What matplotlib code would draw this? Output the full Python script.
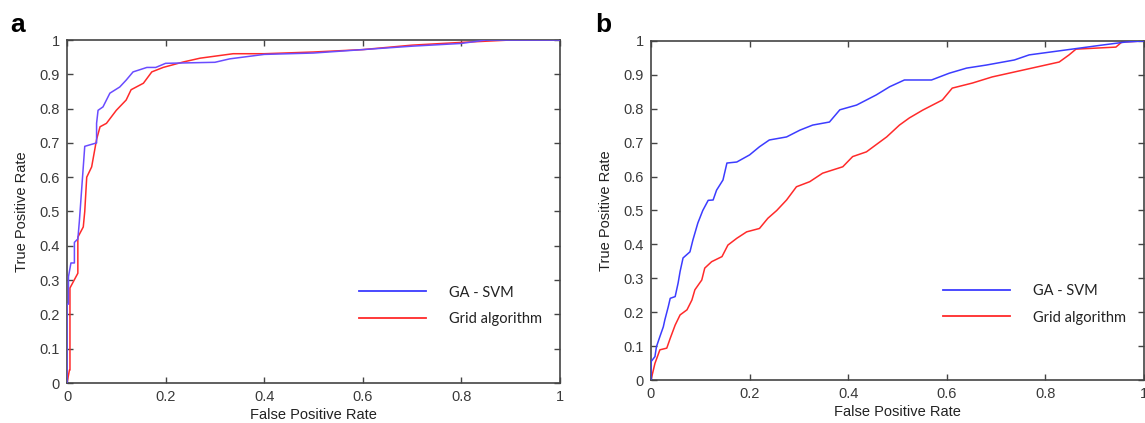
import matplotlib
matplotlib.use("Agg")
import matplotlib.pyplot as plt

plt.rcParams['font.family'] = ['Liberation Sans', 'DejaVu Sans']

# Panel a data
a_ga_fpr = [0, 0, 0.003, 0.003, 0.008, 0.015, 0.015, 0.022, 0.025, 0.028, 0.032, 0.036, 0.06, 0.06,
            0.063, 0.073, 0.087, 0.107, 0.12, 0.134, 0.162, 0.18, 0.2, 0.3, 0.33, 0.4, 0.5, 0.6, 0.7, 0.8, 0.85, 1.0]
a_ga_tpr = [0, 0.23, 0.23, 0.31, 0.35, 0.35, 0.41, 0.42, 0.47, 0.53, 0.61, 0.69, 0.70, 0.757,
            0.795, 0.805, 0.845, 0.863, 0.883, 0.907, 0.92, 0.92, 0.932, 0.935, 0.945, 0.958, 0.962, 0.972, 0.982, 0.99, 1.0, 1.0]
a_grid_fpr = [0, 0.005, 0.006, 0.006, 0.022, 0.022, 0.033, 0.036, 0.04, 0.05, 0.06, 0.067, 0.08, 0.1,
              0.12, 0.13, 0.155, 0.172, 0.195, 0.236, 0.27, 0.337, 0.4, 0.5, 0.6, 0.7, 0.8, 0.9, 1.0]
a_grid_tpr = [0, 0.038, 0.038, 0.277, 0.32, 0.425, 0.455, 0.50, 0.60, 0.63, 0.71, 0.747, 0.757, 0.795,
              0.825, 0.855, 0.874, 0.907, 0.92, 0.936, 0.947, 0.96, 0.96, 0.965, 0.972, 0.985, 0.993, 1.0, 1.0]

# Panel b data
b_ga_fpr = [0, 0, 0.008, 0.011, 0.018, 0.025, 0.028, 0.035, 0.039, 0.049, 0.055, 0.059, 0.065, 0.079,
            0.085, 0.095, 0.105, 0.116, 0.126, 0.133, 0.146, 0.154, 0.174, 0.2, 0.22, 0.24, 0.275, 0.302,
            0.328, 0.362, 0.383, 0.417, 0.457, 0.484, 0.514, 0.569, 0.605, 0.64, 0.68, 0.737, 0.767,
            0.854, 0.915, 0.963, 1.0]
b_ga_tpr = [0, 0.054, 0.069, 0.098, 0.128, 0.157, 0.177, 0.216, 0.241, 0.246, 0.286, 0.32, 0.36, 0.378,
            0.413, 0.463, 0.50, 0.53, 0.531, 0.56, 0.59, 0.64, 0.643, 0.664, 0.688, 0.708, 0.717, 0.737,
            0.752, 0.761, 0.797, 0.811, 0.841, 0.865, 0.885, 0.885, 0.905, 0.92, 0.929, 0.944, 0.959,
            0.976, 0.988, 0.997, 1.0]
b_grid_fpr = [0, 0.008, 0.018, 0.032, 0.039, 0.049, 0.059, 0.073, 0.083, 0.089, 0.103, 0.109, 0.123,
              0.144, 0.156, 0.174, 0.194, 0.22, 0.237, 0.255, 0.275, 0.295, 0.322, 0.348, 0.389, 0.409,
              0.437, 0.45, 0.478, 0.504, 0.524, 0.551, 0.591, 0.611, 0.652, 0.692, 0.828, 0.848, 0.862,
              0.943, 0.955, 1.0]
b_grid_tpr = [0, 0.049, 0.089, 0.094, 0.123, 0.162, 0.192, 0.207, 0.236, 0.266, 0.295, 0.33, 0.349,
              0.364, 0.398, 0.418, 0.437, 0.447, 0.477, 0.50, 0.531, 0.57, 0.585, 0.61, 0.629, 0.659,
              0.673, 0.687, 0.717, 0.752, 0.773, 0.796, 0.826, 0.861, 0.876, 0.894, 0.938, 0.959, 0.976,
              0.982, 0.997, 1.0]

labels = ['GA - SVM', 'Grid algorithm']
xticks = [0, 0.2, 0.4, 0.6, 0.8, 1]
xticklabels = ['0', '0.2', '0.4', '0.6', '0.8', '1']
yticks = [0, 0.1, 0.2, 0.3, 0.4, 0.5, 0.6, 0.7, 0.8, 0.9, 1]
yticklabels = ['0', '0.1', '0.2', '0.3', '0.4', '0.5', '0.6', '0.7', '0.8', '0.9', '1']

W, H = 1145, 423
fig = plt.figure(figsize=(W / 100, H / 100), dpi=100)

ax_a = fig.add_axes([67 / W, (H - 383) / H, 493 / W, 343 / H])
ax_b = fig.add_axes([651 / W, (H - 380) / H, 493 / W, 339 / H])

blue_a = '#6a4cff'
blue_b = '#3c3cff'
red = '#ff2a2a'

ax_a.plot(a_ga_fpr, a_ga_tpr, color=blue_a, lw=1.1, zorder=3)
ax_a.plot(a_grid_fpr, a_grid_tpr, color=red, lw=1.1, zorder=2)
ax_b.plot(b_ga_fpr, b_ga_tpr, color=blue_b, lw=1.1, zorder=3)
ax_b.plot(b_grid_fpr, b_grid_tpr, color=red, lw=1.1, zorder=2)

for ax in (ax_a, ax_b):
    ax.set_xlim(0, 1)
    ax.set_ylim(0, 1)
    ax.set_xticks(xticks)
    ax.set_xticklabels(xticklabels)
    ax.set_yticks(yticks)
    ax.set_yticklabels(yticklabels)
    ax.tick_params(direction='in', length=4, width=1, top=True, right=True,
                   labelsize=10.5, labelcolor='#3a3a3a', color='#444444', pad=5)
    for s in ax.spines.values():
        s.set_color('#444444')
        s.set_linewidth(1.2)
    ax.set_xlabel('False Positive Rate', fontsize=10.5, color='#222222', labelpad=3)
    ax.set_ylabel('True Positive Rate', fontsize=10.5, color='#222222', labelpad=8)

# Legends (no frame)
def add_legend(ax, cols, y):
    hs = [plt.Line2D([], [], color=c, lw=1.3) for c in cols]
    leg = ax.legend(hs, labels, loc='lower right', bbox_to_anchor=(0.99, y),
                    frameon=False, handlelength=4.6, handletextpad=1.6,
                    labelspacing=0.85, prop={'family': 'Lato', 'size': 10.5})
    for t in leg.get_texts():
        t.set_color('#222222')

add_legend(ax_a, [blue_b, red], 0.128)
add_legend(ax_b, [blue_b, red], 0.125)

fig.text(18 / W, (H - 25) / H, 'a', fontsize=19, fontweight='bold', va='center', ha='center')
fig.text(603 / W, (H - 25) / H, 'b', fontsize=19, fontweight='bold', va='center', ha='center')

fig.savefig('out.png', dpi=100)
